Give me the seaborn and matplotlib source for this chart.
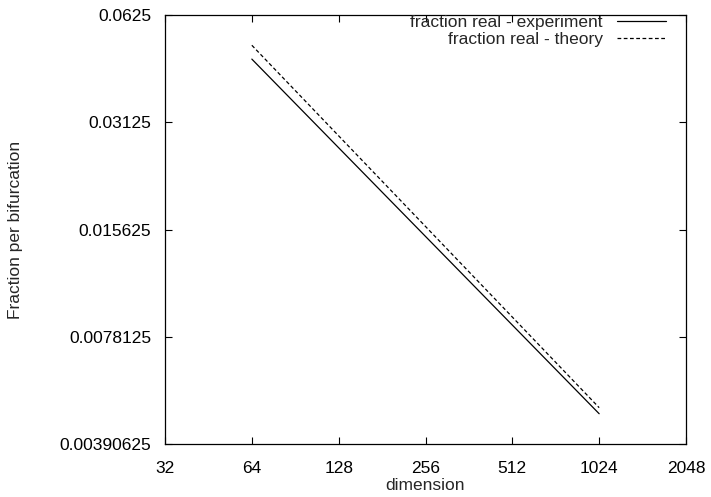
import numpy as np
import pandas as pd
import matplotlib
matplotlib.use("Agg")
import matplotlib.pyplot as plt
import seaborn as sns

# values (straight lines between end points)
dimension = [64, 1024]
frac_experiment = [0.0470, 0.00475]
frac_theory = [0.0514, 0.00494]
x_ticks = [32, 64, 128, 256, 512, 1024, 2048]
y_ticks = [0.00390625, 0.0078125, 0.015625, 0.03125, 0.0625]
y_ticklabels = ["0.00390625", "0.0078125", "0.015625", "0.03125", "0.0625"]

df = pd.concat([
    pd.DataFrame({"dimension": dimension, "fraction": frac_experiment,
                  "series": "fraction real - experiment"}),
    pd.DataFrame({"dimension": dimension, "fraction": frac_theory,
                  "series": "fraction real - theory"}),
])

sns.set_style("ticks")
plt.rcParams["font.family"] = ["Liberation Sans", "DejaVu Sans"]
fs = 12.5

fig = plt.figure(figsize=(7.11, 4.97), dpi=100)
ax = fig.add_axes([165 / 711, 1 - 444 / 497, (686 - 165) / 711, (444 - 15) / 497])

sns.lineplot(data=df, x="dimension", y="fraction", style="series",
             dashes={"fraction real - experiment": "",
                     "fraction real - theory": (3, 2)},
             color="black", linewidth=0.9, ax=ax)

ax.set_xscale("log", base=2)
ax.set_yscale("log", base=2)
ax.set_xlim(32, 2048)
ax.set_ylim(0.00390625, 0.0625)
ax.set_xticks(x_ticks)
ax.set_xticklabels([str(t) for t in x_ticks])
ax.set_yticks(y_ticks)
ax.set_yticklabels(y_ticklabels)
ax.minorticks_off()
ax.tick_params(direction="in", length=5, width=0.8, top=True, right=True,
               labelsize=fs, colors="black")
ax.tick_params(axis="x", pad=12)
ax.tick_params(axis="y", pad=10)
for s in ax.spines.values():
    s.set_linewidth(0.9)
    s.set_color("black")

ax.set_xlabel("dimension", fontsize=fs)
ax.xaxis.set_label_coords(0.5, -34 / 429)
ax.set_ylabel("Fraction per bifurcation", fontsize=fs)
ax.yaxis.set_label_coords(-142 / 521, 0.5)

h, l = ax.get_legend_handles_labels()
ax.legend(h, l, loc="upper right", bbox_to_anchor=(666 / 711, 1 - 15 / 497),
          bbox_transform=fig.transFigure, frameon=False, markerfirst=False,
          fontsize=fs, handlelength=2.8, handletextpad=0.85,
          labelspacing=0.1, borderpad=0, borderaxespad=0)

fig.savefig("out.png", dpi=100)
